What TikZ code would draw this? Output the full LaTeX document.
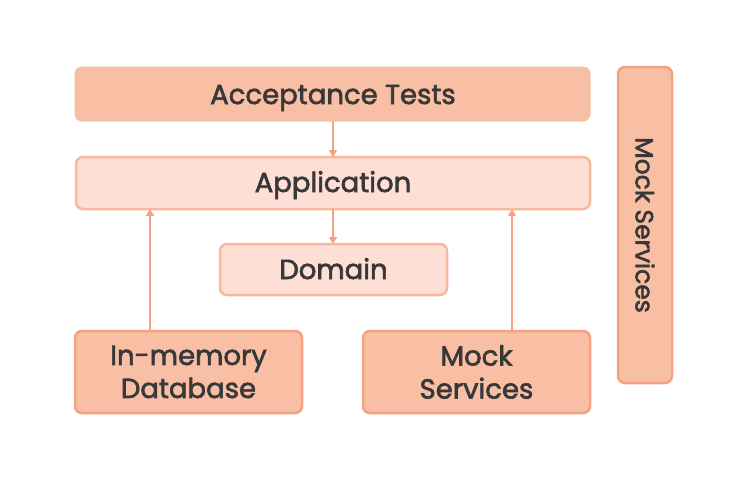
\documentclass[tikz,border=0pt]{standalone}
\usepackage{fontspec}
\setmainfont{Poppins}[FakeBold=2.2]
\usetikzlibrary{arrows.meta}
\definecolor{dark}{HTML}{F9BFA5}
\definecolor{darkline}{HTML}{F5A283}
\definecolor{light}{HTML}{FDDFD5}
\definecolor{lightline}{HTML}{F9B89E}
\definecolor{txt}{HTML}{383838}
\tikzset{
  x=1pt, y=-1pt,
  base/.style={rounded corners=7pt, text=txt, font=\fontsize{27.5}{33}\selectfont, align=center},
  solidbox/.style={base, fill=dark, draw=dark, line width=1pt},
  lightbox/.style={base, fill=light, draw=lightline, line width=2.5pt},
  heavybox/.style={base, fill=dark, draw=darkline, line width=2.5pt},
  conn/.style={draw=darkline, line width=1.6pt, -{Triangle[length=7pt,width=8pt]}}
}
\begin{document}
\begin{tikzpicture}
\useasboundingbox (0,0) rectangle (739,477);
\fill[white] (0,0) rectangle (739,477);
\draw[solidbox] (75,67) rectangle (590,121);
\node[base, anchor=base] (acc) at (333,104) {Acceptance Tests};
\draw[lightbox] (76,157) rectangle (590,209);
\node[base, anchor=base] (app) at (333,192) {Application};
\draw[lightbox] (220,244) rectangle (447,295);
\node[base, anchor=base] (dom) at (333.5,279) {Domain};
\draw[heavybox] (75,331) rectangle (302,413);
\node[base] (db) at (188.5,372) {In-memory\\Database};
\draw[heavybox] (363,331) rectangle (590,413);
\node[base] (ms) at (476.5,372) {Mock\\Services};
\draw[heavybox] (618,67) rectangle (672,383);
\node[base, rotate=-90, font=\fontsize{25}{30}\selectfont] (msv) at (645,225) {Mock Services};
\coordinate (accB) at (333,121);
\coordinate (appT) at (333,157);
\coordinate (appB) at (333,209);
\coordinate (domT) at (333,244);
\coordinate (dbT) at (150,331);
\coordinate (appL) at (150,209);
\coordinate (msT) at (512,331);
\coordinate (appR) at (512,209);
\draw[conn] (accB) -- (appT);
\draw[conn] (appB) -- (domT);
\draw[conn] (dbT) -- (appL);
\draw[conn] (msT) -- (appR);
\end{tikzpicture}
\end{document}
